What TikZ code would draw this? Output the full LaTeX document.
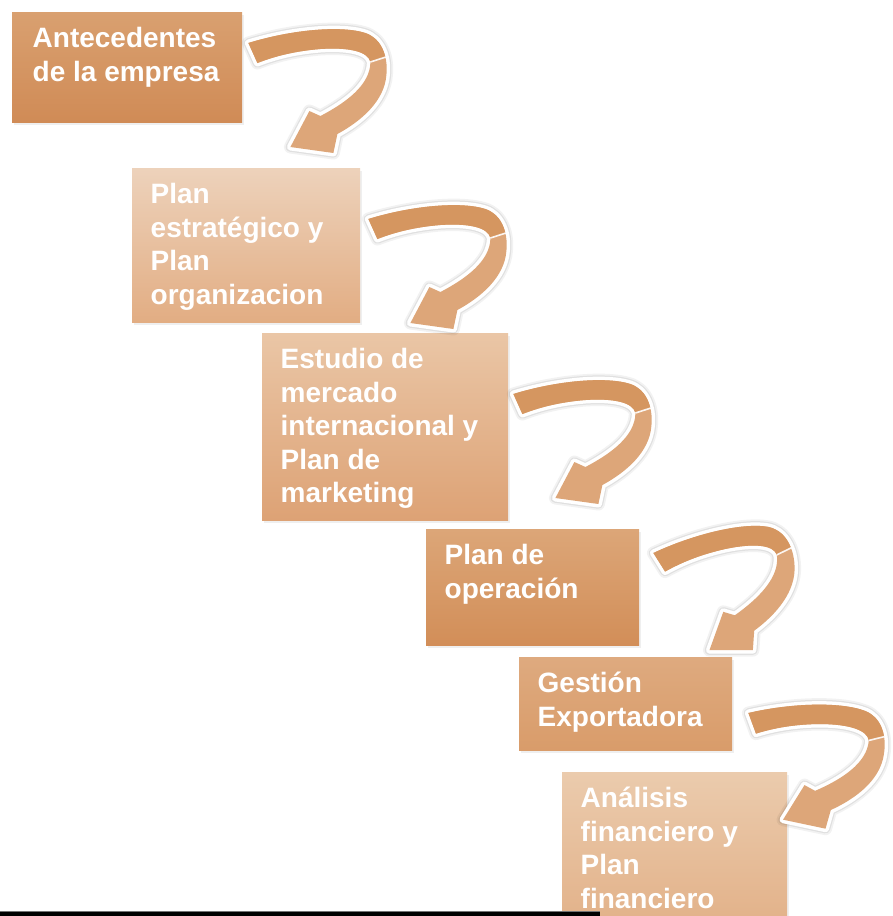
\documentclass[tikz,border=0pt]{standalone}
\usepackage{fontspec}
\setmainfont{Liberation Sans}
\usetikzlibrary{calc,shadows}
\definecolor{boneT}{HTML}{D9A070}
\definecolor{boneB}{HTML}{D08B56}
\definecolor{btwoT}{HTML}{EDD2BB}
\definecolor{btwoB}{HTML}{E2AD83}
\definecolor{bthrT}{HTML}{EAC6A6}
\definecolor{bthrB}{HTML}{DDA275}
\definecolor{bfouT}{HTML}{DCA678}
\definecolor{bfouB}{HTML}{D28E58}
\definecolor{bfivT}{HTML}{DEAA7F}
\definecolor{bfivB}{HTML}{D99C6A}
\definecolor{bsixT}{HTML}{EBCBAD}
\definecolor{bsixB}{HTML}{E1AE84}
\definecolor{arrdark}{HTML}{D59660}
\definecolor{arrlight}{HTML}{DDA679}
\def\arrowpath{(0,0) .. controls (42,-13) and (92,-18) .. (117,-10) .. controls (132,-5) and (140,12) .. (138,32) .. controls (136,58) and (113,78) .. (89,91) -- (85,110) -- (42,104) -- (61,68) -- (72,73) .. controls (97,60) and (122,42) .. (122,19) .. controls (120,9) and (102,4) .. (72,6) .. controls (47,8) and (27,13) .. (9,20) -- cycle}
\def\darkpath{(0,0) .. controls (42,-13) and (92,-18) .. (117,-10) .. controls (128,-6) and (134,2) .. (137,14) -- (122,19) .. controls (120,9) and (102,4) .. (72,6) .. controls (47,8) and (27,13) .. (9,20) -- cycle}
\def\mybentarrow{%
  \draw[black, opacity=.05, line width=13pt, line join=round] \arrowpath;
  \draw[black, opacity=.07, line width=9.5pt, line join=round] \arrowpath;
  \draw[white, line width=7pt, line join=round] \arrowpath;
  \fill[arrlight] \arrowpath;
  \fill[arrdark] \darkpath;
  \draw[white, opacity=.9, line width=1.6pt] (122,19) -- (137.5,14);
}
\tikzset{
  stepbox/.style={rectangle, inner sep=0pt, anchor=north west, draw=none,
    drop shadow={opacity=0.12, shadow xshift=1.5pt, shadow yshift=-2.5pt}},
  lbl/.style={anchor=north west, inner sep=0pt, align=left, text=white,
    font=\fontsize{28}{33.5}\selectfont\bfseries},
}
\newcommand{\fst}{\rule{0pt}{25pt}}
\begin{document}
\begin{tikzpicture}[x=1pt, y=-1pt]
\useasboundingbox (0,0) rectangle (892,916);
\clip (0,0) rectangle (892,916);
\fill[white] (0,0) rectangle (892,916);
% boxes
\node[stepbox, minimum width=230pt, minimum height=110pt, top color=boneT, bottom color=boneB] (b1) at (12,12) {};
\node[stepbox, minimum width=228pt, minimum height=154pt, top color=btwoT, bottom color=btwoB] (b2) at (132,168) {};
\node[stepbox, minimum width=246pt, minimum height=187pt, top color=bthrT, bottom color=bthrB] (b3) at (262,333) {};
\node[stepbox, minimum width=213pt, minimum height=116pt, top color=bfouT, bottom color=bfouB] (b4) at (426,529) {};
\node[stepbox, minimum width=213pt, minimum height=93pt, top color=bfivT, bottom color=bfivB] (b5) at (519,657) {};
\node[stepbox, minimum width=225pt, minimum height=175pt, top color=bsixT, bottom color=bsixB] (b6) at (562,772) {};
% labels
\node[lbl] (t1) at ($(b1.north west)+(20.5,10.5)$) {\fst Antecedentes\\de la empresa};
\node[lbl] (t2) at ($(b2.north west)+(18.5,10.5)$) {\fst Plan\\estratégico y\\Plan\\organizacion};
\node[lbl] (t3) at ($(b3.north west)+(18.5,10.5)$) {\fst Estudio de\\mercado\\internacional y\\Plan de\\marketing};
\node[lbl] (t4) at ($(b4.north west)+(18.5,10.5)$) {\fst Plan de\\operación};
\node[lbl] (t5) at ($(b5.north west)+(18.5,10.5)$) {\fst Gestión\\Exportadora};
\node[lbl] (t6) at ($(b6.north west)+(18.5,10.5)$) {\fst Análisis\\financiero y\\Plan\\financiero};
% curved arrows
\begin{scope}[shift={($(b1.north east)+(6,31)$)}] \mybentarrow \end{scope}
\begin{scope}[shift={($(b2.north east)+(8,51)$)}] \mybentarrow \end{scope}
\begin{scope}[shift={($(b3.north east)+(5,61)$)}] \mybentarrow \end{scope}
\begin{scope}[shift={($(b4.north east)+(14,24)$)}, rotate=8] \mybentarrow \end{scope}
\begin{scope}[shift={($(b5.north east)+(16,56)$)}, rotate=-4] \mybentarrow \end{scope}
% bottom bar
\fill[black!55] (0,910.5) rectangle (600,912);
\fill[black] (0,912) rectangle (600,916);
\end{tikzpicture}
\end{document}
